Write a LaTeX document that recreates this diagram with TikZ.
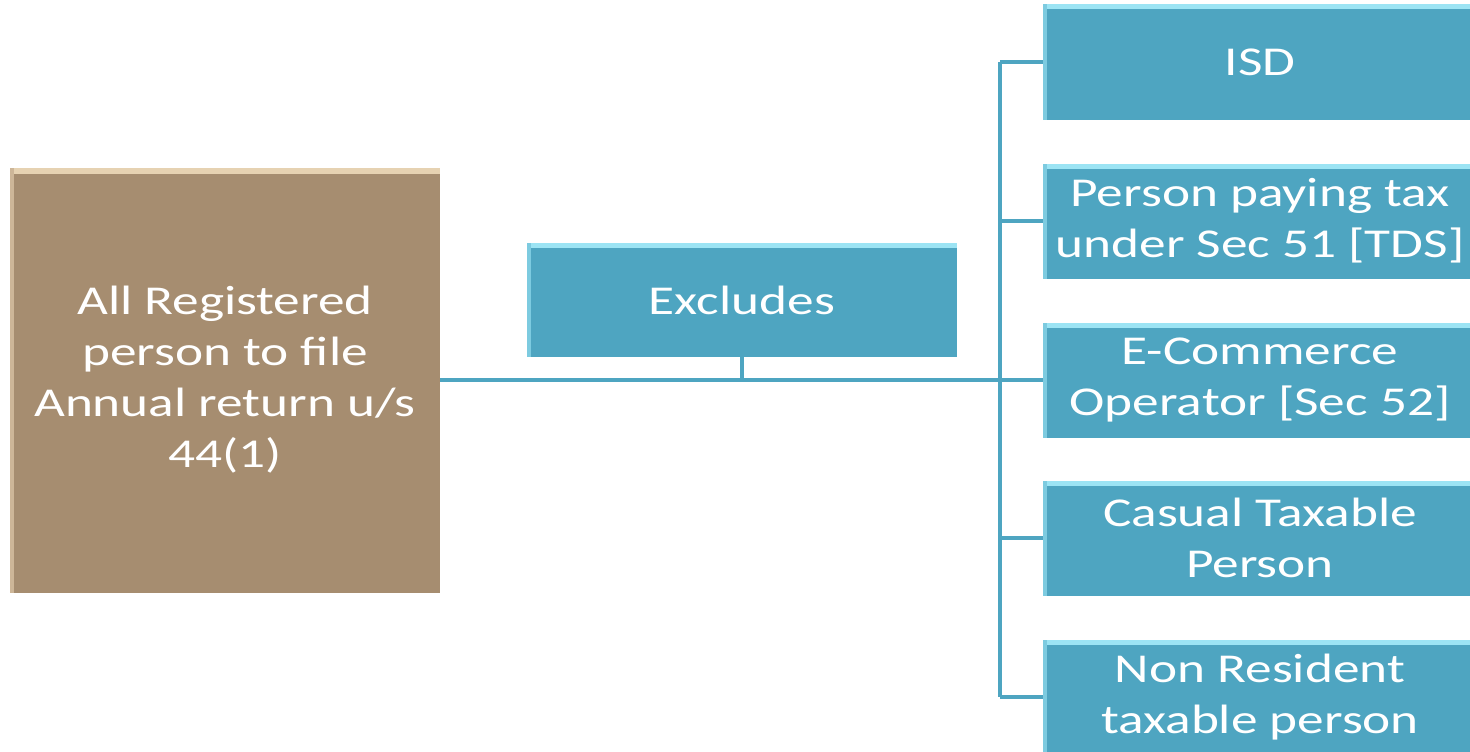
\documentclass[tikz,border=0pt]{standalone}
\usepackage{fontspec}
\setmainfont{Carlito}[FakeStretch=1.3]
\definecolor{boxblue}{HTML}{4EA5C1}
\definecolor{bluehi}{HTML}{9CE4F4}
\definecolor{boxbrown}{HTML}{A68D70}
\definecolor{brownhi}{HTML}{E6D2B2}
\definecolor{lineblue}{HTML}{4EA5C1}
\begin{document}
\begin{tikzpicture}[x=1pt,y=-1pt,
  basebox/.style={rectangle, inner sep=0pt, align=center, text=white,
    font=\fontsize{41}{51}\selectfont},
  bluebox/.style={basebox, fill=boxblue, minimum width=434pt, minimum height=115pt,
    path picture={\fill[bluehi] (path picture bounding box.north west) rectangle ([yshift=-5pt]path picture bounding box.north east);
                  \fill[bluehi!60!boxblue] (path picture bounding box.north west) rectangle ([xshift=4pt]path picture bounding box.south west);}},
  brownbox/.style={basebox, fill=boxbrown, minimum width=430pt, minimum height=425pt,
    path picture={\fill[brownhi] (path picture bounding box.north west) rectangle ([yshift=-6pt]path picture bounding box.north east);
                  \fill[brownhi!60!boxbrown] (path picture bounding box.north west) rectangle ([xshift=4pt]path picture bounding box.south west);}},
  conn/.style={draw=lineblue, line width=4pt}]
\useasboundingbox (0,0) rectangle (1470,752);
\clip (0,0) rectangle (1470,752);
\fill[white] (0,0) rectangle (1470,752);

\node[brownbox] (root) at (225,380) {All Registered\\person to file\\Annual return u/s\\44(1)};
\node[bluebox, minimum width=430pt, minimum height=114pt] (excl) at (742,300) {Excludes};

\node[bluebox] (isd) at (1260,62) {ISD};
\node[bluebox] (tds) at (1260,221) {Person paying tax\\under Sec 51 [TDS]};
\node[bluebox] (eco) at (1260,380) {E-Commerce\\Operator [Sec 52]};
\node[bluebox] (ctp) at (1260,538) {Casual Taxable\\Person};
\node[bluebox] (nrt) at (1260,697) {Non Resident\\taxable person};

\coordinate (hub) at (1000,380);
\draw[conn] (root.east) -- (root.east -| hub);
\draw[conn] (excl.south) -- (excl.south |- hub);
\draw[conn] (isd.west -| hub) -- (nrt.west -| hub);
\foreach \n in {isd,tds,eco,ctp,nrt}
  \draw[conn] (\n.west -| hub) -- (\n.west);
\end{tikzpicture}
\end{document}
